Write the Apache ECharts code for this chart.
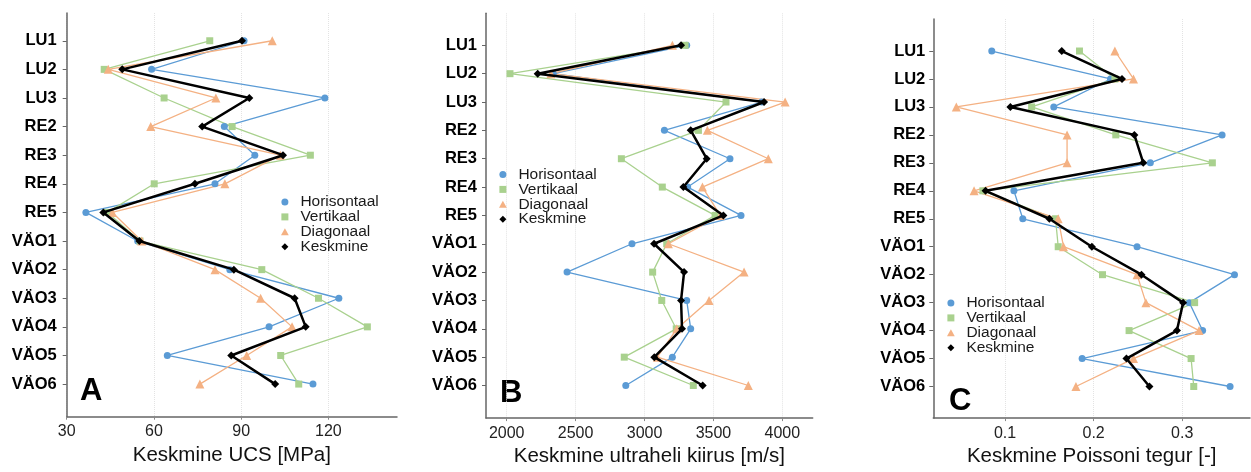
<!DOCTYPE html>
<html>
<head>
<meta charset="utf-8">
<script src="https://cdn.jsdelivr.net/npm/echarts@6/dist/echarts.min.js"></script>
<style>
  html, body { margin: 0; padding: 0; background: #fff; }
  #chart { width: 1251px; height: 472px; }
</style>
</head>
<body>
<div id="chart"></div>
<script>
const categories = ['LU1', 'LU2', 'LU3', 'RE2', 'RE3', 'RE4', 'RE5', 'VÄO1', 'VÄO2', 'VÄO3', 'VÄO4', 'VÄO5', 'VÄO6'];
const seriesNames = ['Horisontaal', 'Vertikaal', 'Diagonaal', 'Keskmine'];

// A: Keskmine UCS [MPa]
const ucsHoris = [91, 59.2, 118.8, 84.2, 94.7, 81.0, 36.6, 54.4, 86.1, 123.6, 99.6, 64.6, 114.7];
const ucsVert = [79.2, 42.9, 63.5, 86.9, 113.8, 60.1, 44.0, 55.2, 97.1, 116.6, 133.4, 103.6, 109.8];
const ucsDiag = [100.7, 44.3, 81.3, 58.9, 103.5, 84.4, 45.7, 55.8, 81.0, 96.7, 107.5, 91.9, 75.8];
const ucsMean = [90.3, 49.1, 92.8, 76.6, 104.4, 74.1, 42.6, 55.0, 87.5, 108.4, 112.2, 86.6, 101.7];
const ucsTicks = [30, 60, 90, 120];

// B: Keskmine ultraheli kiirus [m/s]
const velHoris = [3306, 2338, 3850, 3144, 3620, 3313, 3700, 2909, 2438, 3306, 3335, 3202, 2864];
const velVert = [3294, 2024, 3591, 3391, 2832, 3129, 3512, 3161, 3059, 3125, 3230, 2853, 3354];
const velDiag = [3202, 2321, 4020, 3456, 3898, 3420, 3550, 3173, 3722, 3468, 3234, 3093, 3753];
const velMean = [3265, 2225, 3867, 3335, 3451, 3282, 3572, 3069, 3287, 3265, 3272, 3071, 3422];
const velTicks = [2000, 2500, 3000, 3500, 4000];

// C: Keskmine Poissoni tegur [-]
const poiHoris = [0.085, 0.219, 0.155, 0.345, 0.264, 0.110, 0.120, 0.249, 0.359, 0.308, 0.323, 0.187, 0.354];
const poiVert = [0.184, 0.224, 0.130, 0.225, 0.334, 0.075, 0.157, 0.160, 0.210, 0.314, 0.240, 0.310, 0.313];
const poiDiag = [0.224, 0.245, 0.045, 0.170, 0.170, 0.065, 0.160, 0.166, 0.249, 0.259, 0.319, 0.245, 0.180];
const poiMean = [0.164, 0.232, 0.106, 0.246, 0.256, 0.078, 0.150, 0.198, 0.254, 0.301, 0.294, 0.237, 0.263];
const poiTicks = [0.1, 0.2, 0.3];

const FONT = '"Liberation Sans", Arial, sans-serif';
const colors = ['#5b9bd5', '#a9d18e', '#f4b183', '#000000'];
const symbols = ['circle', 'rect', 'triangle', 'diamond'];
const legendIcons = ['circle', 'path://M0,0H10V10H0Z', 'path://M5,0L10,9H0Z', 'path://M5,0L10,5L5,10L0,5Z'];
const symbolSizes = [7, 7, 9, 8];
const catIdx = categories.map((c, i) => i + 1);

const panels = [
  { data: [ucsHoris, ucsVert, ucsDiag, ucsMean], ticks: ucsTicks, name: 'Keskmine UCS [MPa]',
    xMin: 30, xMax: 143.6, yMin: 0.03, yMax: 14.14, labelMargin: 10,
    grid: { left: 66.7, top: 13, width: 330.3, height: 403.7 },
    legend: { left: 281, top: 194 }, letter: { t: 'A', x: 80, y: 391.5 } },
  { data: [velHoris, velVert, velDiag, velMean], ticks: velTicks, name: 'Keskmine ultraheli kiirus [m/s]',
    xMin: 1850, xMax: 4220, yMin: -0.13, yMax: 14.15, labelMargin: 9,
    grid: { left: 486, top: 13.3, width: 326.7, height: 405 },
    legend: { left: 499, top: 166.5 }, letter: { t: 'B', x: 500, y: 393 } },
  { data: [poiHoris, poiVert, poiDiag, poiMean], ticks: poiTicks, name: 'Keskmine Poissoni tegur [-]',
    xMin: 0.019, xMax: 0.3765, yMin: -0.145, yMax: 14.13, labelMargin: 8,
    grid: { left: 933.3, top: 19, width: 316.7, height: 407.7 },
    legend: { left: 947, top: 295 }, letter: { t: 'C', x: 949, y: 401.5 } }
];

const axisLineStyle = { color: '#666666', width: 1.5 };

const option = {
  animation: false,
  textStyle: { fontFamily: FONT },
  grid: panels.map(p => p.grid),
  xAxis: panels.map((p, i) => ({
    type: 'value',
    gridIndex: i,
    position: 'bottom',
    min: p.xMin,
    max: p.xMax,
    name: p.name,
    nameLocation: 'middle',
    nameGap: 27,
    nameTextStyle: { fontSize: 20.5, color: '#111', fontFamily: FONT },
    axisLine: { show: true, onZero: false, lineStyle: axisLineStyle },
    axisTick: { show: true, length: 3, lineStyle: { color: '#888' }, customValues: p.ticks },
    axisLabel: {
      customValues: p.ticks,
      formatter: v => String(v),
      fontSize: 16, color: '#222', margin: 7, fontFamily: FONT
    },
    splitLine: { show: true, lineStyle: { color: '#e3e3e3', type: 'dotted', width: 1 } }
  })),
  yAxis: panels.map((p, i) => ({
    type: 'value',
    gridIndex: i,
    position: 'left',
    inverse: true,
    min: p.yMin,
    max: p.yMax,
    axisLine: { show: true, onZero: false, lineStyle: axisLineStyle },
    axisTick: { show: true, length: 4, lineStyle: { color: '#666' }, customValues: catIdx },
    axisLabel: {
      customValues: catIdx,
      formatter: v => categories[Math.round(v) - 1] || '',
      fontSize: 16.5, fontWeight: 'bold', color: '#000', margin: p.labelMargin, fontFamily: FONT
    },
    splitLine: { show: false }
  })),
  legend: panels.map(p => ({
    orient: 'vertical',
    left: p.legend.left,
    top: p.legend.top,
    itemWidth: 21,
    itemHeight: 7,
    itemGap: -1.1,
    padding: 0,
    textStyle: { fontSize: 15.5, lineHeight: 14.5, color: '#1a1a1a', fontFamily: FONT },
    data: seriesNames.map((n, k) => ({ name: n, icon: legendIcons[k] }))
  })),
  graphic: panels.map(p => ({
    type: 'text',
    x: p.letter.x,
    y: p.letter.y,
    style: { text: p.letter.t, font: 'bold 31px ' + FONT, fill: '#000', textVerticalAlign: 'middle' }
  })),
  series: []
};

panels.forEach((p, i) => {
  p.data.forEach((vals, k) => {
    option.series.push({
      name: seriesNames[k],
      type: 'line',
      xAxisIndex: i,
      yAxisIndex: i,
      symbol: symbols[k],
      symbolSize: symbolSizes[k],
      color: colors[k],
      lineStyle: { color: colors[k], width: k === 3 ? 2.5 : 1.3 },
      itemStyle: { color: colors[k] },
      z: k === 3 ? 5 : 2,
      data: vals.map((v, j) => [v, j + 1])
    });
  });
});

const chart = echarts.init(document.getElementById('chart'));
chart.setOption(option);
</script>
</body>
</html>
